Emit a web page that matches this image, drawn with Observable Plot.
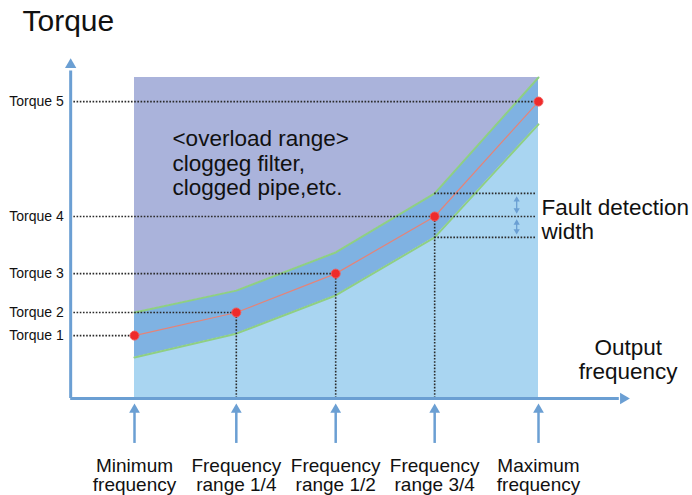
<!DOCTYPE html>
<html><head><meta charset="utf-8">
<script src="https://cdn.jsdelivr.net/npm/d3@7"></script>
<script src="https://cdn.jsdelivr.net/npm/@observablehq/plot@0.6"></script>
<style>body{margin:0;background:#fff;font-family:"Liberation Sans",Arial,sans-serif}</style>
</head><body><div id="chart"></div>
<script>
// ---- data ----
const freqLabels = ["Minimum\nfrequency","Frequency\nrange 1/4","Frequency\nrange 1/2","Frequency\nrange 3/4","Maximum\nfrequency"];
const freqPos = [0, 0.252, 0.498, 0.743, 1];           // fraction of the frequency span
const torqueLabels = ["Torque 1","Torque 2","Torque 3","Torque 4","Torque 5"];
const torqueValues = [19.6, 26.8, 38.9, 56.7, 92.5];   // % of overload ceiling
const upperLimit = [26.8, 33.6, 45.5, 63.9, 100];
const lowerLimit = [12.8, 20.2, 32.1, 50.2, 85.4];
const overloadTop = 100;
const overloadText = ["<overload range>", "cloggeg filter,", "clogged pipe,etc."];
const faultText = ["Fault detection", "width"];
const outputText = ["Output", "frequency"];
const titleText = "Torque";

// axis extents in data units
const yAxisX = -0.158, xAxisEnd = 1.21, yAxisTop = 104;
const faultArrowX = 0.946;

const pts = freqPos.map((f, i) => ({f, t: torqueValues[i], up: upperLimit[i], lo: lowerLimit[i], flab: freqLabels[i], tlab: torqueLabels[i]}));
const mid = pts.slice(1, 4);
const k = 3;
const P = pts[k];

const axisColor = "#6b9fd3";
const dotted = {stroke: "#2a2a2a", strokeWidth: 1.6, strokeDasharray: "1.6,1.6"};

const chart = Plot.plot({
  width: 692, height: 495,
  margin: 0,
  x: {domain: [0, 1], range: [134, 538], axis: null},
  y: {domain: [0, 100], range: [398, 77], axis: null},
  style: {fontFamily: "Liberation Sans, Arial, sans-serif", color: "#111"},
  marks: [
    // regions
    Plot.areaY(pts, {x: "f", y1: "up", y2: overloadTop, fill: "#aab3db", curve: "linear"}),
    Plot.areaY(pts, {x: "f", y1: "lo", y2: "up", fill: "#7fb2e2"}),
    Plot.areaY(pts, {x: "f", y1: 0, y2: "lo", fill: "#a9d5f1"}),
    Plot.line(pts, {x: "f", y: "up", stroke: "#8fcf83", strokeWidth: 2}),
    Plot.line(pts, {x: "f", y: "lo", stroke: "#8fcf83", strokeWidth: 2}),
    Plot.line(pts, {x: "f", y: "t", stroke: "#e68377", strokeWidth: 1.2}),
    // dotted guides
    Plot.ruleY(pts, {y: "t", x1: yAxisX, x2: "f", ...dotted}),
    Plot.ruleX(mid, {x: "f", y1: 0, y2: "t", ...dotted}),
    Plot.ruleY([P.up, P.t, P.lo], {x1: P.f, x2: 0.995, ...dotted}),
    // fault width double arrows
    Plot.ruleX([{a: P.up, b: P.t}, {a: P.t, b: P.lo}], {x: faultArrowX, y1: "a", y2: "b", insetTop: 5, insetBottom: 5, stroke: axisColor, strokeWidth: 1.3}),
    Plot.dot([P.up, P.t], {x: faultArrowX, y: d => d, dy: 6.4, symbol: "triangle", r: 2.3, fill: axisColor, stroke: null}),
    Plot.dot([P.t, P.lo], {x: faultArrowX, y: d => d, dy: -6.4, symbol: "triangle", r: 2.3, fill: axisColor, stroke: null, rotate: 180}),
    // axes
    Plot.ruleX([yAxisX], {y1: 0, y2: yAxisTop - 2, stroke: axisColor, strokeWidth: 3}),
    Plot.ruleY([0], {x1: yAxisX, x2: xAxisEnd - 0.01, stroke: axisColor, strokeWidth: 3}),
    Plot.dot([0], {x: yAxisX, y: yAxisTop, symbol: "triangle", r: 4.2, fill: axisColor, stroke: null}),
    Plot.dot([0], {x: xAxisEnd, y: 0, symbol: "triangle", r: 4.2, fill: axisColor, stroke: null, rotate: 90}),
    // frequency arrows under the axis
    Plot.ruleX(pts, {x: "f", y1: -14, y2: -4, stroke: axisColor, strokeWidth: 2.5}),
    Plot.dot(pts, {x: "f", y: -3.5, symbol: "triangle", r: 4, fill: axisColor, stroke: null}),
    // points
    Plot.dot(pts, {x: "f", y: "t", r: 4.5, fill: "#ef2b2b", stroke: "#f25a5a", strokeWidth: 1}),
    // texts
    Plot.text([titleText], {frameAnchor: "top-left", dx: 22, dy: 9, lineAnchor: "top", textAnchor: "start", fontSize: 30, fill: "#111"}),
    Plot.text(pts, {x: yAxisX, y: "t", text: "tlab", dx: -7, textAnchor: "end", fontSize: 14, fill: "#111"}),
    Plot.text(pts, {x: "f", y: -18.5, text: "flab", lineAnchor: "top", fontSize: 19, lineHeight: 1.02, fill: "#111"}),
    Plot.text([overloadText.join("\n")], {x: 0.094, y: 85, dy: 3, lineAnchor: "top", textAnchor: "start", fontSize: 22.5, lineHeight: 1.09, fill: "#111"}),
    Plot.text([faultText.join("\n")], {x: 1, y: P.t, dx: 3, dy: 3, lineAnchor: "middle", textAnchor: "start", fontSize: 22.5, lineHeight: 1.07, fill: "#111"}),
    Plot.text([outputText.join("\n")], {x: 1.222, y: 14, dy: 6, lineAnchor: "middle", textAnchor: "middle", fontSize: 22.5, lineHeight: 1.07, fill: "#111"})
  ]
});
document.getElementById("chart").append(chart);
</script>
</body></html>
